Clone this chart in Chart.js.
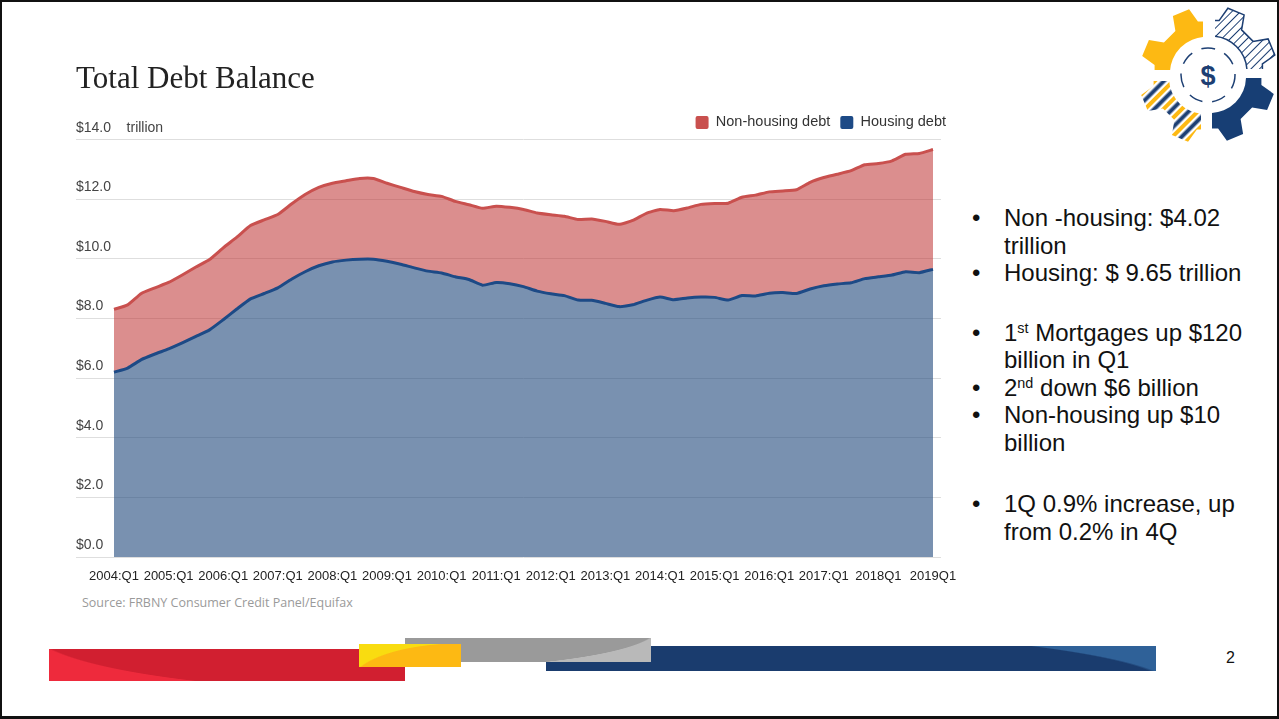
<!DOCTYPE html>
<html>
<head>
<meta charset="utf-8">
<title>Total Debt Balance</title>
<script src="https://cdn.jsdelivr.net/npm/chart.js@4.4.0/dist/chart.umd.min.js"></script>
<style>
    html, body { margin: 0; padding: 0; background: #fff; }
    .slide {
        position: relative; width: 1279px; height: 719px; box-sizing: border-box;
        border: 2px solid #111; border-bottom-width: 3px; overflow: hidden;
        font-family: "Liberation Sans", Arial, sans-serif; background: #fff;
    }
    #chartBox { position: absolute; left: 74px; top: 48px; width: 880px; height: 535px; }
    .source { position: absolute; left: 80px; top: 592px; font: 12.5px "Open Sans", sans-serif; color: #9a9a9a; }
    .notes {
        position: absolute; left: 970px; top: 202px; margin: 0; padding: 0; list-style: none;
        font-size: 24px; line-height: 27.5px; color: #111;
    }
    .notes li { position: relative; padding-left: 32px; }
    .notes li:before { content: "\2022"; position: absolute; left: 0; }
    .notes li.gap { margin-top: 32px; }
    .notes li.gap2 { margin-top: 34px; }
    .notes sup { font-size: 60%; vertical-align: 0.55em; line-height: 0; }
    .bar { position: absolute; }
    .bar.blue { left: 544px; top: 644px; width: 610px; height: 25px;
        background: radial-gradient(ellipse 627px 64px at 0px 40px, #1a3c6e 99%, #2f6198 100%); }
    .bar.gray { left: 403px; top: 636px; width: 246px; height: 24px;
        background: radial-gradient(ellipse 254px 41px at 0px -10px, #9a9a9a 99%, #b9b9b9 100%); }
    .bar.red { left: 47px; top: 647px; width: 356px; height: 32px;
        background: radial-gradient(ellipse 376px 63px at 356px -20px, #d11f30 99%, #ee2a3c 100%); }
    .bar.yellow { left: 357px; top: 642px; width: 102px; height: 23px;
        background: radial-gradient(ellipse 112px 41px at 102px 40px, #fdb913 98%, #f9dc10 100%); }
    .pageno { position: absolute; left: 1224px; top: 647px; font-size: 16px; color: #111; }
    #logo { position: absolute; left: 1136px; top: 1px; }
</style>
</head>
<body>
<div class="slide">
    <div id="chartBox"><canvas id="debtChart"></canvas></div>
    <div class="source">Source: FRBNY Consumer Credit Panel/Equifax</div>

    <ul class="notes">
        <li>Non -housing: $4.02<br>trillion</li>
        <li>Housing: $ 9.65 trillion</li>
        <li class="gap">1<sup>st</sup> Mortgages up $120<br>billion in Q1</li>
        <li>2<sup>nd</sup> down $6 billion</li>
        <li>Non-housing up $10<br>billion</li>
        <li class="gap2">1Q 0.9% increase, up<br>from 0.2% in 4Q</li>
    </ul>

    <svg id="logo" width="140" height="140" viewBox="0 0 140 140">
        <defs>
            <pattern id="hatch" width="6" height="6" patternUnits="userSpaceOnUse" patternTransform="rotate(45)">
                <rect width="6" height="6" fill="#fff"/>
                <line x1="0" y1="0" x2="0" y2="6" stroke="#1d3f73" stroke-width="2"/>
            </pattern>
            <pattern id="stripes" width="13" height="13" patternUnits="userSpaceOnUse" patternTransform="rotate(45)">
                <rect width="13" height="13" fill="#fff"/>
                <rect x="0" width="4" height="13" fill="#fdb913"/>
                <rect x="6.5" width="4" height="13" fill="#1d3f73"/>
            </pattern>
            <clipPath id="qTL"><rect x="0" y="0" width="67" height="69"/></clipPath>
            <clipPath id="qTR"><rect x="74" y="0" width="66" height="69"/></clipPath>
            <clipPath id="qBR"><rect x="72" y="73" width="68" height="67"/></clipPath>
            <clipPath id="qBL"><rect x="0" y="75" width="66" height="65"/></clipPath>
        </defs>
        <g id="logoGears"></g>
        <circle cx="70" cy="72" r="27" fill="none" stroke="#1d3f73" stroke-width="1.5" stroke-dasharray="14 10"/>
        <text x="70" y="82" text-anchor="middle" font-family="Liberation Sans, Arial" font-weight="bold" font-size="27" fill="#1d3f73">$</text>
    </svg>

    <div class="bar blue"></div>
    <div class="bar gray"></div>
    <div class="bar red"></div>
    <div class="bar yellow"></div>
    <div class="pageno">2</div>
</div>

<script>
    // Year labels on the x axis (one per Q1)
    const yearLabels = ['2004:Q1', '2005:Q1', '2006:Q1', '2007:Q1', '2008:Q1', '2009:Q1', '2010:Q1', '2011:Q1',
        '2012:Q1', '2013:Q1', '2014:Q1', '2015:Q1', '2016:Q1', '2017:Q1', '2018Q1', '2019Q1'];

    // Quarterly balances, trillions of dollars, 2004:Q1 .. 2019:Q1
    const housingDebt = [
        6.20, 6.34, 6.62, 6.81, 6.98, 7.18, 7.40, 7.62, 7.96, 8.32,
        8.66, 8.84, 9.03, 9.32, 9.57, 9.77, 9.90, 9.96, 9.99, 9.99,
        9.92, 9.82, 9.70, 9.59, 9.53, 9.40, 9.31, 9.12, 9.21, 9.17,
        9.07, 8.92, 8.83, 8.77, 8.62, 8.61, 8.51, 8.40, 8.46, 8.61,
        8.72, 8.63, 8.69, 8.72, 8.71, 8.62, 8.77, 8.76, 8.85, 8.87,
        8.84, 8.99, 9.10, 9.16, 9.20, 9.34, 9.40, 9.46, 9.57, 9.54, 9.65
    ];
    const nonHousingDebt = [
        2.11, 2.12, 2.22, 2.22, 2.23, 2.28, 2.33, 2.36, 2.41, 2.41,
        2.46, 2.47, 2.46, 2.52, 2.59, 2.63, 2.64, 2.66, 2.71, 2.71,
        2.62, 2.58, 2.56, 2.57, 2.57, 2.53, 2.51, 2.58, 2.56, 2.56,
        2.59, 2.62, 2.65, 2.66, 2.70, 2.73, 2.75, 2.76, 2.83, 2.92,
        2.94, 2.99, 3.02, 3.11, 3.15, 3.25, 3.30, 3.38, 3.40, 3.41,
        3.48, 3.58, 3.63, 3.68, 3.76, 3.82, 3.80, 3.83, 3.94, 4.00, 4.02
    ];

    const yMax = 14;
    const yStep = 2;

    // quarter names for the category axis; only Q1 gets a printed label
    const quarters = [];
    yearLabels.forEach((lbl, i) => {
        quarters.push(lbl);
        if (i < yearLabels.length - 1) {
            const yr = lbl.slice(0, 4);
            quarters.push(yr + ':Q2', yr + ':Q3', yr + ':Q4');
        }
    });

    const gridColor = '#dedede';

    // logo gears: one gear outline clipped into four quarters
    function gearPath(cx, cy, rOut, rRoot, rHole, teeth) {
        const step = Math.PI * 2 / teeth;
        const pts = [];
        for (let i = 0; i < teeth; i++) {
            const a = i * step + step / 2;
            pts.push([a - step * 0.30, rRoot], [a - step * 0.17, rOut], [a + step * 0.17, rOut], [a + step * 0.30, rRoot]);
        }
        let d = 'M' + pts.map(([a, r]) => (cx + r * Math.cos(a)).toFixed(1) + ',' + (cy + r * Math.sin(a)).toFixed(1)).join('L') + 'Z';
        d += `M${cx + rHole},${cy}A${rHole},${rHole} 0 1 0 ${cx - rHole},${cy}A${rHole},${rHole} 0 1 0 ${cx + rHole},${cy}Z`;
        return d;
    }
    const gearD = gearPath(70, 72, 66, 52, 36, 8);
    document.getElementById('logoGears').innerHTML = `
        <path d="${gearD}" fill="#fdb913" fill-rule="evenodd" clip-path="url(#qTL)" transform="translate(-2,-2)"/>
        <path d="${gearD}" fill="url(#hatch)" stroke="#1d3f73" stroke-width="1.5" fill-rule="evenodd" clip-path="url(#qTR)" transform="translate(3,-3)"/>
        <path d="${gearD}" fill="#173e74" fill-rule="evenodd" clip-path="url(#qBR)" transform="translate(2,2)"/>
        <path d="${gearD}" fill="url(#stripes)" fill-rule="evenodd" clip-path="url(#qBL)" transform="translate(-3,3)"/>`;

    const ctx = document.getElementById('debtChart').getContext('2d');
    new Chart(ctx, {
        type: 'line',
        data: {
            labels: quarters,
            datasets: [{
                label: 'Housing debt',
                data: housingDebt,
                borderColor: '#1d4a86',
                backgroundColor: 'rgba(38,78,128,0.62)',
                fill: 'origin',
                borderWidth: 3,
                pointRadius: 0,
                tension: 0.15
            }, {
                label: 'Non-housing debt',
                data: nonHousingDebt,
                borderColor: '#c9504e',
                backgroundColor: 'rgba(190,50,50,0.55)',
                fill: '-1',
                borderWidth: 3,
                pointRadius: 0,
                tension: 0.15
            }]
        },
        options: {
            responsive: true,
            maintainAspectRatio: false,
            animation: false,
            layout: { padding: 0 },
            scales: {
                x: {
                    grid: { display: false, drawTicks: false },
                    border: { display: false },
                    afterFit: scale => {
                        scale.height = 28;
                        scale.paddingLeft = 0;
                        scale.paddingRight = 0;
                    },
                    ticks: {
                        autoSkip: false,
                        maxRotation: 0,
                        padding: 12,
                        color: '#222',
                        font: { family: 'Liberation Sans', size: 13 },
                        callback: function (value, index) {
                            return index % 4 === 0 ? yearLabels[index / 4] : '';
                        }
                    }
                },
                y: {
                    stacked: true,
                    min: 0,
                    max: yMax,
                    border: { display: false },
                    grid: { color: gridColor, tickColor: gridColor, tickLength: 38, drawTicks: true },
                    afterFit: scale => {
                        scale.width = 38;
                        scale.paddingTop = 0;
                        scale.paddingBottom = 0;
                    },
                    ticks: {
                        stepSize: yStep,
                        // mirrored labels are not clipped to the axis box, so the unit can run past it
                        mirror: true,
                        padding: -38,
                        labelOffset: -12,
                        color: '#444',
                        font: { family: 'Liberation Sans', size: 14 },
                        callback: v => v === yMax ? '$' + v.toFixed(1) + '    trillion' : '$' + v.toFixed(1)
                    }
                },
                y2: {
                    position: 'right',
                    min: 0,
                    max: yMax,
                    border: { display: false },
                    grid: { drawOnChartArea: false, tickColor: gridColor, tickLength: 8 },
                    afterFit: scale => { scale.width = 23; },
                    ticks: { stepSize: yStep, display: false }
                }
            },
            plugins: {
                title: {
                    display: true,
                    text: 'Total Debt Balance',
                    align: 'start',
                    color: '#222',
                    font: { family: 'Liberation Serif', size: 31, weight: 'normal' },
                    padding: { top: 11, bottom: 7 }
                },
                legend: {
                    position: 'top',
                    align: 'end',
                    reverse: true,
                    labels: {
                        boxWidth: 13,
                        boxHeight: 13,
                        useBorderRadius: true,
                        borderRadius: 2,
                        color: '#333',
                        font: { family: 'Liberation Sans', size: 14.5 },
                        generateLabels: chart => Chart.defaults.plugins.legend.labels.generateLabels(chart)
                            .map(item => Object.assign(item, {
                                fillStyle: chart.data.datasets[item.datasetIndex].borderColor,
                                lineWidth: 0
                            }))
                    }
                },
                tooltip: { enabled: false }
            }
        }
    });
</script>
</body>
</html>
